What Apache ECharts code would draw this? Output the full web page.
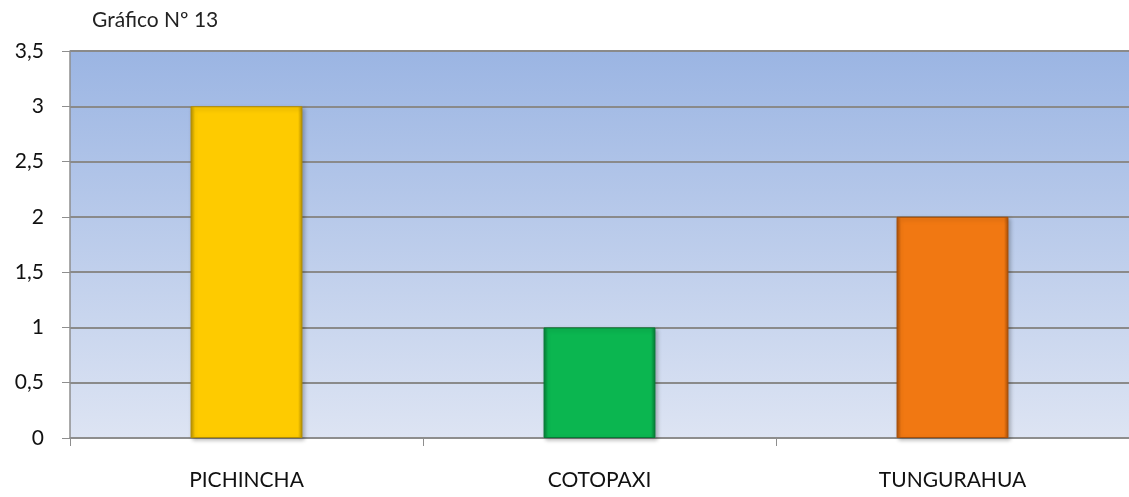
<!DOCTYPE html>
<html>
<head>
<meta charset="utf-8">
<script src="https://cdn.jsdelivr.net/npm/echarts@6/dist/echarts.min.js"></script>
<style>
  html, body { margin: 0; padding: 0; background: #fff; }
  #chart { width: 1129px; height: 497px; }
</style>
</head>
<body>
<div id="chart"></div>
<script>
// datos del gráfico
const provincias = ['PICHINCHA', 'COTOPAXI', 'TUNGURAHUA']
const valores = [3, 1, 2]
const coloresBarra = ['#fecb00', '#0bb650', '#f17812']
const bordesBarra = ['#b58f00', '#067a35', '#a84f08']

const chart = echarts.init(document.getElementById('chart'))

const option = {
  animation: false,
  textStyle: { fontFamily: 'Lato, "Noto Sans", sans-serif' },
  title: {
    text: 'Gráfico Nº 13',
    left: 87,
    top: 5,
    textStyle: { fontSize: 21, fontWeight: 'normal', color: '#222' }
  },
  grid: {
    left: 70,
    right: 0,
    top: 51,
    bottom: 59,
    show: true,
    borderWidth: 0,
    backgroundColor: new echarts.graphic.LinearGradient(0, 0, 0, 1, [
      { offset: 0, color: '#9bb5e3' },
      { offset: 1, color: '#dde4f3' }
    ])
  },
  xAxis: {
    type: 'category',
    data: provincias,
    axisLine: { lineStyle: { color: '#8e8e8e', width: 1.5 } },
    axisTick: { show: true, length: 8, lineStyle: { color: '#8e8e8e' } },
    axisLabel: { color: '#111', fontSize: 21, margin: 32 }
  },
  yAxis: {
    type: 'value',
    min: 0,
    max: 3.5,
    interval: 0.5,
    axisLine: { show: true, lineStyle: { color: '#8e8e8e', width: 1.5 } },
    axisTick: { show: true, length: 8, lineStyle: { color: '#8e8e8e' } },
    axisLabel: {
      color: '#111',
      fontSize: 21,
      margin: 26,
      formatter: v => String(v).replace('.', ',')
    },
    splitLine: { show: true, lineStyle: { color: '#8a8a8a', width: 2 } }
  },
  series: [
    {
      type: 'bar',
      barWidth: '31.7%',
      data: valores.map((v, i) => ({
        value: v,
        itemStyle: {
          color: new echarts.graphic.LinearGradient(0, 0, 1, 0, [
            { offset: 0, color: bordesBarra[i] },
            { offset: 0.04, color: coloresBarra[i] },
            { offset: 0.96, color: coloresBarra[i] },
            { offset: 1, color: bordesBarra[i] }
          ]),
          borderColor: bordesBarra[i],
          borderWidth: 1,
          shadowColor: 'rgba(0,0,0,0.25)',
          shadowBlur: 4,
          shadowOffsetX: 2,
          shadowOffsetY: 2
        }
      }))
    }
  ]
}

chart.setOption(option)
</script>
</body>
</html>
